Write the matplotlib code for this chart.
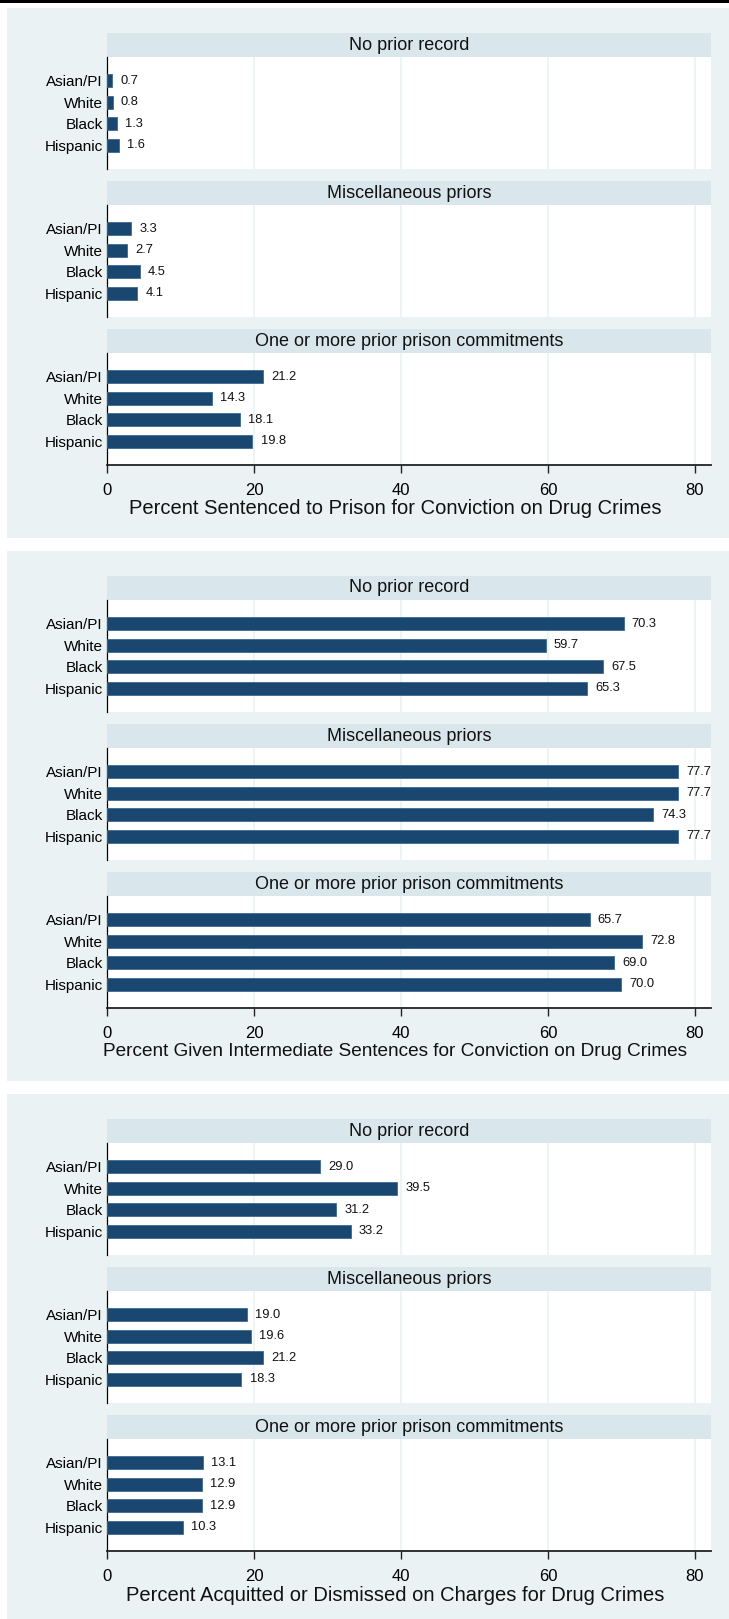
import numpy as np
import matplotlib
matplotlib.use('Agg')
import matplotlib.pyplot as plt
from matplotlib.patches import Rectangle

plt.rcParams['font.family'] = ['Liberation Sans', 'DejaVu Sans']

# data
groups = ['Asian/PI', 'White', 'Black', 'Hispanic']
facets = ['No prior record', 'Miscellaneous priors', 'One or more prior prison commitments']
prison = [[0.7, 0.8, 1.3, 1.6], [3.3, 2.7, 4.5, 4.1], [21.2, 14.3, 18.1, 19.8]]
intermediate = [[70.3, 59.7, 67.5, 65.3], [77.7, 77.7, 74.3, 77.7], [65.7, 72.8, 69.0, 70.0]]
acquitted = [[29.0, 39.5, 31.2, 33.2], [19.0, 19.6, 21.2, 18.3], [13.1, 12.9, 12.9, 10.3]]
xlabels = ['Percent Sentenced to Prison for Conviction on Drug Crimes',
           'Percent Given Intermediate Sentences for Conviction on Drug Crimes',
           'Percent Acquitted or Dismissed on Charges for Drug Crimes']
xlabel_sizes = [14.5, 13.7, 14.5]
xticks = [0, 20, 40, 60, 80]

W, H = 729, 1619
BG = '#eaf2f3'
STRIP = '#d9e6eb'
BAR = '#1a476f'

fig = plt.figure(figsize=(W / 100, H / 100), dpi=100)


def box(x, y, w, h):
    # pixel box (top-left origin) -> figure fraction
    return [x / W, 1 - (y + h) / H, w / W, h / H]


# thick black line across the very top
fig.add_artist(Rectangle((0, 1 - 3 / H), 1, 3 / H, transform=fig.transFigure,
                         facecolor='black', edgecolor='none'))

panel_tops = [8, 551, 1094]
x0, pw = 107, 604
for p, (top, data, xl) in enumerate(zip(panel_tops, [prison, intermediate, acquitted], xlabels)):
    fig.add_artist(Rectangle((7 / W, 1 - (top + 530) / H), 1 - 7 / W, 530 / H,
                             transform=fig.transFigure, facecolor=BG, edgecolor='none', zorder=0))
    for k, (name, vals) in enumerate(zip(facets, data)):
        htop = top + 25 + 148 * k
        hax = fig.add_axes(box(x0, htop, pw, 24))
        hax.set_facecolor(STRIP)
        hax.set_xticks([])
        hax.set_yticks([])
        for s in hax.spines.values():
            s.set_visible(False)
        hax.text(0.5, 0.5, name, ha='center', va='center', fontsize=13, color='#111111',
                 transform=hax.transAxes)

        ax = fig.add_axes(box(x0, htop + 24, pw, 112))
        ax.set_facecolor('white')
        y = np.arange(len(groups))
        ax.barh(y, vals, height=0.62, color=BAR, edgecolor='#3a6a90', linewidth=0.6, zorder=3)
        for yi, v in zip(y, vals):
            ax.text(v + 1.1, yi, '{:.1f}'.format(v), va='center', ha='left', fontsize=9.3,
                    color='#111111', zorder=4)
        ax.set_xlim(0, 82.2)
        ax.set_ylim(4.1, -1.1)
        ax.set_yticks(y)
        ax.set_yticklabels(groups, fontsize=11)
        ax.tick_params(axis='y', length=0, pad=3)
        for g in xticks[1:]:
            ax.axvline(g, color=BG, linewidth=1.2, zorder=1)
        ax.spines['right'].set_visible(False)
        ax.spines['top'].set_visible(False)
        ax.spines['left'].set_color('black')
        ax.spines['left'].set_linewidth(0.9)
        if k == 2:
            ax.spines['bottom'].set_color('#222222')
            ax.spines['bottom'].set_linewidth(1.3)
            ax.set_xticks(xticks)
            ax.set_xticklabels([str(t) for t in xticks], fontsize=12)
            ax.tick_params(axis='x', length=6, width=1, pad=7, color='#222222')
            axis_y = htop + 24 + 112
            fig.text(395 / W, 1 - (axis_y + 44) / H, xl, ha='center', va='center',
                     fontsize=xlabel_sizes[p], color='#111111')
        else:
            ax.spines['bottom'].set_visible(False)
            ax.set_xticks([])

fig.savefig('out.png', dpi=100)
